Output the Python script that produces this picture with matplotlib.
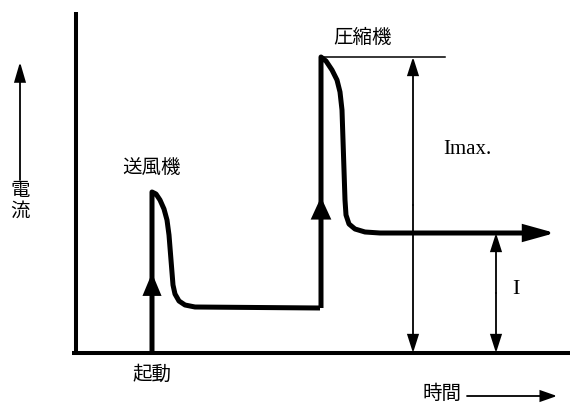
import matplotlib
matplotlib.use('Agg')
import matplotlib.pyplot as plt

# 時間と電流 (原点 = 軸の交点, 単位は任意)
fan_t = [76, 80, 84, 88, 91, 93, 95, 97, 99, 103, 109, 119, 244]
fan_i = [161, 159, 153, 144, 133, 118, 93, 68, 59, 52, 48, 46, 45]
comp_t = [245, 250, 256, 261, 264, 266, 267, 268, 269, 270, 273, 279, 289, 304, 460]
comp_i = [296, 292, 283, 273, 261, 243, 213, 183, 153, 138, 129, 124, 121, 120, 120]

t_start = 76      # 起動
t_comp = 245      # 圧縮機起動
t_end = 479       # 時間軸の矢印の先
i_max = 296       # Imax.
i_run = 120       # I
t_imax = 337
t_irun = 420

CJK = ['Noto Sans CJK JP', 'DejaVu Sans']
SERIF = ['Liberation Serif', 'DejaVu Serif']

fig = plt.figure(figsize=(5.7, 4.04), dpi=100)
ax = fig.add_axes([0, 0, 1, 1])
ax.set_xlim(-76, 494)
ax.set_ylim(-51, 353)
ax.axis('off')


def arrow(x0, y0, x1, y1, lw, hl, hw, style='-|>'):
    ax.annotate('', xy=(x1, y1), xytext=(x0, y0),
                arrowprops=dict(arrowstyle=f'{style},head_length={hl},head_width={hw}',
                                lw=lw, color='black', shrinkA=0, shrinkB=0,
                                mutation_scale=1, joinstyle='miter'),
                annotation_clip=False)


# 軸
ax.plot([-4, 494], [0, 0], color='black', lw=2.9, solid_capstyle='butt')
ax.plot([0, 0], [0, 341], color='black', lw=2.9, solid_capstyle='butt')

# 電流曲線
kw = dict(color='black', lw=3.6, solid_joinstyle='round', solid_capstyle='butt')
ax.plot([t_start, t_start] + fan_t, [0, fan_i[0]] + fan_i, **kw)
ax.plot([t_comp, t_comp] + comp_t, [fan_i[-1], comp_i[0]] + comp_i, **kw)

# 矢印
arrow(t_start, 55, t_start, 80, 2.5, 12, 5)
arrow(t_comp, 130, t_comp, 156, 2.5, 12, 5.5)
arrow(450, i_run, t_end, i_run, 2.5, 18, 5)

# Imax. と I
ax.plot([t_comp, 369], [i_max, i_max], color='black', lw=1.1)
arrow(t_imax, i_max / 2, t_imax, i_max, 1.3, 11, 3.5)
arrow(t_imax, i_max / 2, t_imax, 0, 1.3, 11, 3.5)
arrow(t_irun, i_run / 2, t_irun, i_run, 1.3, 11, 3.5)
arrow(t_irun, i_run / 2, t_irun, 0, 1.3, 11, 3.5)

# 軸ラベルの矢印
arrow(-56, 173, -56, 291, 1.3, 12, 3.5)
arrow(391, -43, 481, -43, 1.3, 10, 3.5)

# 文字
ax.text(t_start, 186, '送風機', family=CJK, fontsize=14, ha='center', va='center')
ax.text(287, 316, '圧縮機', family=CJK, fontsize=14, ha='center', va='center')
ax.text(t_start, -21, '起動', family=CJK, fontsize=14, ha='center', va='center')
ax.text(366, -40, '時間', family=CJK, fontsize=14, ha='center', va='center')
ax.text(-56, 152, '電\n流', family=CJK, fontsize=14, ha='center', va='center',
        linespacing=0.95)
ax.text(391, 203, 'Imax.', family=SERIF, fontsize=15, ha='center', va='center')
ax.text(440, 63, 'I', family=SERIF, fontsize=16, ha='center', va='center')

fig.savefig('out.png', dpi=100, facecolor='white')
